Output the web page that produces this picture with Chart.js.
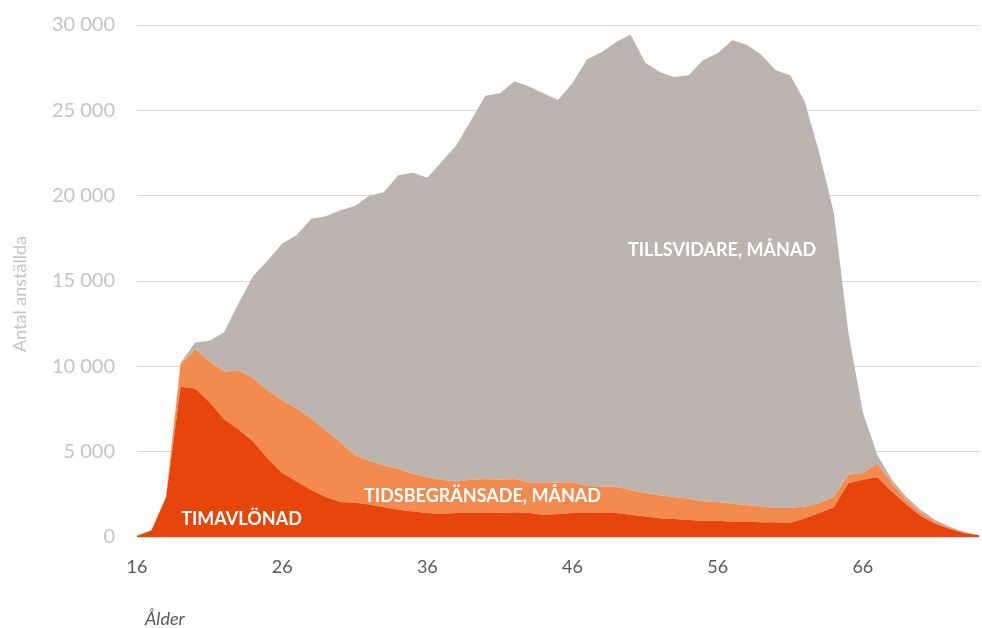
<!DOCTYPE html>
<html>
<head>
<meta charset="utf-8">
<script src="https://cdn.jsdelivr.net/npm/chart.js@4.4.1/dist/chart.umd.min.js"></script>
<style>
  html, body { margin: 0; padding: 0; background: #fff; }
</style>
</head>
<body>
<canvas id="age-chart" width="982" height="628"></canvas>
<script>
// ålder 16-74
let ages = [16, 17, 18, 19, 20, 21, 22, 23, 24, 25,
    26, 27, 28, 29, 30, 31, 32, 33, 34, 35,
    36, 37, 38, 39, 40, 41, 42, 43, 44, 45,
    46, 47, 48, 49, 50, 51, 52, 53, 54, 55,
    56, 57, 58, 59, 60, 61, 62, 63, 64, 65,
    66, 67, 68, 69, 70, 71, 72, 73, 74];

let timavlonad = [80, 400, 2300, 8800, 8700, 7900, 6900, 6300, 5600, 4600,
    3750, 3250, 2750, 2350, 2050, 2000, 1900, 1750, 1600, 1500,
    1400, 1350, 1400, 1400, 1400, 1400, 1450, 1400, 1300, 1350,
    1400, 1400, 1400, 1400, 1300, 1200, 1100, 1050, 1000, 950,
    950, 900, 900, 870, 870, 820, 1100, 1400, 1750, 3150,
    3350, 3500, 2650, 1900, 1220, 770, 470, 240, 100];

let tidsbegransade = [0, 0, 50, 1300, 2300, 2400, 2800, 3450, 3700, 4000,
    4250, 4300, 4200, 3900, 3500, 2800, 2550, 2450, 2400, 2200,
    2100, 2000, 1850, 1950, 2000, 1950, 1950, 1800, 1900, 1850,
    1800, 1600, 1550, 1550, 1450, 1400, 1350, 1300, 1250, 1150,
    1100, 1050, 970, 910, 830, 880, 680, 590, 600, 500,
    400, 800, 500, 250, 200, 130, 60, 30, 10];

let tillsvidare = [0, 0, 50, 100, 400, 1200, 2300, 3950, 6000, 7600,
    9200, 10150, 11700, 12550, 13600, 14600, 15550, 16000, 17200, 17650,
    17550, 18650, 19700, 21050, 22450, 22650, 23300, 23200, 22800, 22400,
    23400, 25000, 25450, 26050, 26700, 25200, 24800, 24600, 24800, 25850,
    26300, 27150, 26980, 26470, 25650, 25350, 23720, 20510, 16650, 8350,
    3550, 500, 200, 200, 160, 100, 70, 30, 10];

let yTicks = [0, 5000, 10000, 15000, 20000, 25000, 30000];

function fmt(v) {
    return String(v).replace(/\B(?=(\d{3})+(?!\d))/g, ' ');
}

// etiketter i ytorna + axeltitlar
let labelPlugin = {
    id: 'areaLabels',
    afterDraw(chart) {
        let ctx = chart.ctx;
        let x = chart.scales.x;
        let y = chart.scales.y;
        ctx.save();
        ctx.fillStyle = '#ffffff';
        ctx.font = 'bold 18px Lato';
        ctx.textAlign = 'center';
        ctx.textBaseline = 'middle';
        ctx.fillText('TILLSVIDARE, MÅNAD', x.getPixelForValue(40.3), y.getPixelForValue(16800));
        ctx.fillText('TIDSBEGRÄNSADE, MÅNAD', x.getPixelForValue(23.8), y.getPixelForValue(2400));
        ctx.fillText('TIMAVLÖNAD', x.getPixelForValue(7.2), y.getPixelForValue(1050));

        ctx.fillStyle = '#595959';
        ctx.font = 'italic 18px Lato';
        ctx.textAlign = 'left';
        ctx.fillText('Ålder', 145, 619);

        ctx.translate(20, 294);
        ctx.rotate(-Math.PI / 2);
        ctx.fillStyle = '#c4c4c4';
        ctx.font = '18px Lato';
        ctx.textAlign = 'center';
        ctx.fillText('Antal anställda', 0, 0);
        ctx.restore();
    }
};

let ageData = {
    labels: ages,
    datasets: [{
        label: 'Timavlönad',
        data: timavlonad,
        backgroundColor: '#e6460c',
        fill: 'origin'
    }, {
        label: 'Tidsbegränsade, månad',
        data: tidsbegransade,
        backgroundColor: '#f38b4f',
        fill: '-1'
    }, {
        label: 'Tillsvidare, månad',
        data: tillsvidare,
        backgroundColor: '#bcb4ae',
        fill: '-1'
    }]
};

let ageConfig = {
    type: 'line',
    data: ageData,
    options: {
        responsive: false,
        animation: false,
        layout: { padding: { top: 25, right: 3, bottom: 0, left: 0 } },
        elements: {
            point: { radius: 0 },
            line: { tension: 0, borderWidth: 0 }
        },
        plugins: {
            legend: { display: false },
            tooltip: { enabled: false }
        },
        scales: {
            x: {
                offset: false,
                grid: { display: false },
                border: { display: false },
                ticks: {
                    autoSkip: false,
                    maxRotation: 0,
                    padding: 11,
                    color: '#595959',
                    font: { family: 'Lato', size: 18 },
                    callback: (v, i) => (i % 10 === 0 ? ages[i] : '')
                },
                afterFit: (s) => {
                    s.height = 91;
                    s.paddingLeft = 0;
                    s.paddingRight = 0;
                }
            },
            y: {
                stacked: true,
                min: 0,
                max: 30000,
                afterBuildTicks: (s) => { s.ticks = yTicks.map(v => ({ value: v })); },
                grid: { color: '#d9d9d9', drawTicks: false },
                border: { display: false },
                ticks: {
                    padding: 22,
                    color: '#c4c4c4',
                    font: { family: 'Lato', size: 20 },
                    callback: (v) => fmt(v)
                },
                afterFit: (s) => {
                    s.width = 137;
                    s.paddingTop = 0;
                    s.paddingBottom = 0;
                }
            }
        }
    },
    plugins: [labelPlugin]
};

let ageChart = new Chart(
    document.getElementById('age-chart'),
    ageConfig
);
</script>
</body>
</html>
